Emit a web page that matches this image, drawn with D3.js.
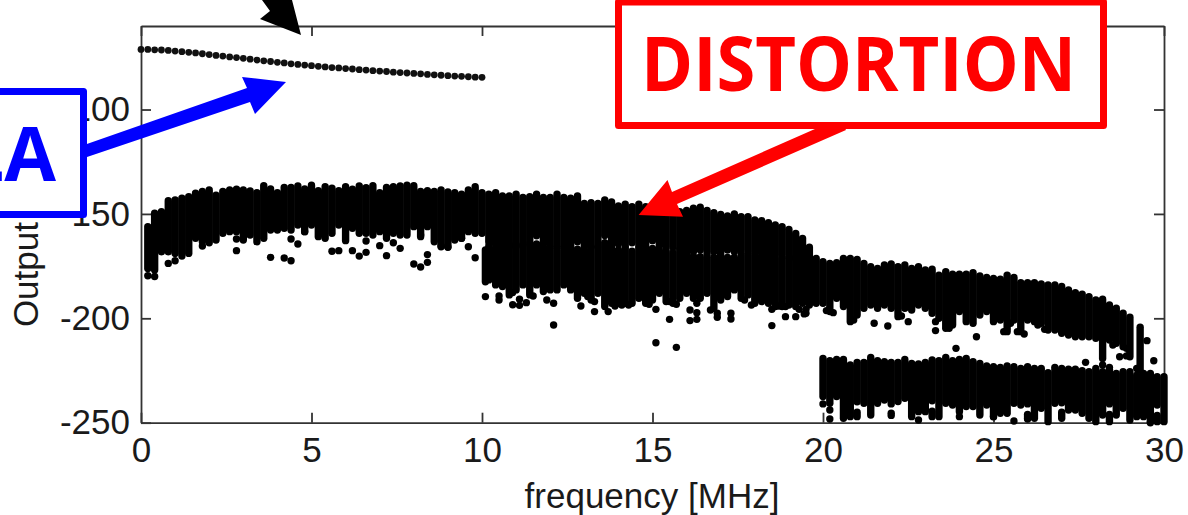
<!DOCTYPE html>
<html>
<head>
<meta charset="utf-8">
<script src="https://cdn.jsdelivr.net/npm/d3@7"></script>
<style>
  html, body { margin: 0; padding: 0; background: #fff; overflow: hidden; }
  svg { display: block; }
  .tick text { font-family: "Liberation Sans", Arial, sans-serif; font-size: 35px; fill: #1a1a1a; }
  .tick line, .domain { stroke: #333; stroke-width: 1.8px; }
  .lbl { font-family: "Liberation Sans", Arial, sans-serif; font-size: 35px; fill: #1a1a1a; }
  .note { font-family: "Open Sans", "Noto Sans", sans-serif; font-weight: 700; font-size: 75px; }
</style>
</head>
<body>
<script>
var w = 1188, h = 515;

var xTicks = [0, 5, 10, 15, 20, 25, 30];
var yTicks = [-250, -200, -150, -100];

// fundamental, one point every 0.2 MHz from 0 to 10
var fundFreq = [0,0.2,0.4,0.6,0.8,1,1.2,1.4,1.6,1.8,2,2.2,2.4,2.6,2.8,3,3.2,3.4,3.6,3.8,4,4.2,4.4,4.6,4.8,5,5.2,5.4,5.6,5.8,6,6.2,6.4,6.6,6.8,7,7.2,7.4,7.6,7.8,8,8.2,8.4,8.6,8.8,9,9.2,9.4,9.6,9.8,10];
var fundPower = [-71.2,-71.2,-71.4,-71.5,-71.7,-72.0,-72.3,-72.6,-72.9,-73.3,-73.7,-74.1,-74.4,-74.8,-75.1,-75.5,-75.9,-76.3,-76.7,-77.0,-77.4,-77.7,-78.1,-78.4,-78.7,-79.0,-79.3,-79.6,-79.9,-80.1,-80.4,-80.6,-80.9,-81.1,-81.4,-81.6,-81.8,-82.1,-82.3,-82.5,-82.7,-82.9,-83.2,-83.4,-83.6,-83.8,-84.0,-84.1,-84.3,-84.5,-84.6];

// dense columns of distortion dots: [freq, highest, lowest]
var band2nd = [[0.2,-156.1,-176.1],[0.4,-149.7,-176.9],[0.6,-149,-168.1],[0.8,-143.7,-168.1],[1,-143.3,-168.9],[1.2,-142.5,-170.2],[1.4,-141.7,-168.9],[1.6,-140.1,-161.7],[1.8,-139.3,-163.3],[2,-138.5,-163.8],[2.2,-141,-162.5],[2.4,-139.3,-159.3],[2.6,-138.5,-158.5],[2.8,-138.2,-158.5],[3,-138.5,-162.5],[3.2,-139,-160.1],[3.4,-139.8,-163.3],[3.6,-136.5,-161.7],[3.8,-138.1,-157.7],[4,-139.8,-157.7],[4.2,-137.3,-156.9],[4.4,-137.3,-157.7],[4.6,-136.6,-155.3],[4.8,-138.1,-158.5],[5,-136.3,-155.3],[5.2,-138.9,-160.9],[5.4,-137,-161.7],[5.6,-137.7,-159.3],[5.8,-138.9,-155.3],[6,-137,-162.8],[6.2,-138.2,-156.9],[6.4,-136.6,-159.3],[6.6,-137.4,-159.3],[6.8,-136.5,-160.1],[7,-139.8,-158.5],[7.2,-137.3,-161.7],[7.4,-137,-159.3],[7.6,-136.6,-160.1],[7.8,-136.3,-160.1],[8,-136.5,-156.1],[8.2,-139.3,-160.9],[8.4,-138.9,-156.1],[8.6,-139.2,-163.3],[8.8,-138.5,-165.7],[9,-139.5,-165.7],[9.2,-139.8,-162.5],[9.4,-140.5,-161.7],[9.6,-138.5,-158.5],[9.8,-137,-159.3],[10,-139.8,-159.3],
  [10.2,-140.5,-163.5],[10.4,-139.8,-164.5],[10.6,-141.4,-165.5],[10.8,-141.4,-165.5],[11,-140.5,-165.5],[11.2,-142.1,-164.5],[11.4,-141.7,-163.5],[11.6,-140.5,-160.5],[11.8,-142.1,-164.5],[12,-142.1,-165.5],[12.2,-140.5,-165.5],[12.4,-142.1,-165.5],[12.6,-142.5,-165.5],[12.8,-141.4,-163.3],[13,-145,-165.5],[13.2,-144.6,-165.5],[13.4,-145,-165.5],[13.6,-143.3,-160.4],[13.8,-144.3,-165.5],[14,-146.2,-164.4],[14.2,-145.3,-165.5],[14.4,-146.5,-163.8],[14.6,-145.3,-165.5],[14.8,-146.5,-165.5],[15,-147.3,-162.8],[15.2,-147.8,-165.5],[15.4,-147.8,-165.7],[15.6,-148.1,-166],[15.8,-148.9,-166.5],[16,-148.4,-167.3],[16.2,-147.3,-168.1],[16.4,-146.8,-167.3],[16.6,-148.4,-167.3],[16.8,-149.4,-168.1],[17,-150.2,-167.3],[17.2,-151,-167.3],[17.4,-150,-168.1],[17.6,-151.3,-167.3],[17.8,-151.3,-168.1],[18,-152.9,-168.9],[18.2,-153.2,-168.9],[18.4,-154.2,-169.7],[18.6,-155.3,-169.7],[18.8,-156.1,-169.7],[19,-157.4,-170.5],[19.2,-159.3,-171.3],[19.4,-161.7,-170.5]];

var band3rd = [[10.1,-167.3,-182.5],[10.2,-165.4,-181.6],[10.4,-166,-184],[10.6,-164.9,-184.8],[10.8,-164.9,-188.8],[11,-166,-186.4],[11.2,-164.9,-184],[11.4,-164.4,-188.8],[11.6,-164.4,-184],[11.8,-166,-187.2],[12,-166.5,-186.4],[12.2,-167.3,-186.4],[12.4,-166.5,-184],[12.6,-166,-186.4],[12.8,-166.9,-190.4],[13,-166.5,-188],[13.2,-166,-191.2],[13.4,-166.5,-188],[13.6,-163.8,-194.4],[13.8,-166.5,-192.8],[14,-167.3,-192.8],[14.2,-166.5,-192.8],[14.4,-167.8,-192.8],[14.6,-166.5,-190.4],[14.8,-166.5,-192.8],[15,-166.5,-191.2],[15.2,-167.3,-188],[15.4,-167.3,-192],[15.6,-168.6,-192.8],[15.8,-167.3,-190.4],[16,-168.1,-188],[16.2,-170.2,-190.4],[16.4,-170.5,-190.4],[16.6,-168.6,-188],[16.8,-170.8,-195.2],[17,-168.1,-191.2],[17.2,-170.8,-189.6],[17.4,-170.8,-186.4],[17.6,-168.9,-190.4],[17.8,-169.7,-188.8],[18,-170.2,-192.8],[18.2,-170.2,-192],[18.4,-170.8,-192.8],[18.6,-170.8,-194.4],[18.8,-171.3,-194.4],[19,-171.3,-193.6],[19.2,-171.3,-194.4],[19.4,-170.8,-192.8],
  [19.6,-165.9,-193.6],[19.8,-171.3,-192.8],[20,-172.9,-192.8],[20.2,-173.7,-196.8],[20.4,-173.4,-190.4],[20.6,-171.3,-194.4],[20.8,-171.3,-201.6],[21,-171.8,-198.4],[21.2,-173.7,-195.2],[21.4,-175.3,-193.6],[21.6,-176.1,-195.2],[21.8,-174.5,-193.6],[22,-174,-195.2],[22.2,-175.3,-199.2],[22.4,-174.5,-195.2],[22.6,-176.1,-196],[22.8,-175.3,-193.6],[23,-176.9,-195.2],[23.2,-176.5,-197.6],[23.4,-179.3,-200],[23.6,-177.7,-204.8],[23.8,-178.9,-203.2],[24,-178.9,-196.8],[24.2,-178.9,-201.6],[24.4,-178.1,-202.4],[24.6,-179.7,-198.4],[24.8,-180.4,-196.8],[25,-180.9,-201.6],[25.2,-181.3,-200.8],[25.4,-179.3,-206.4],[25.6,-180.4,-200.8],[25.8,-182.9,-206.4],[26,-182.9,-200.8],[26.2,-182.9,-201.6],[26.4,-183.6,-202.4],[26.6,-184,-205.6],[26.8,-184,-205.6],[27,-184.8,-207.2],[27.2,-186.4,-208],[27.4,-187.7,-208.8],[27.6,-188.4,-208.8],[27.8,-189.6,-208.8],[28,-191.2,-209.6],[28.2,-190.9,-219.2],[28.4,-193.6,-210.4],[28.6,-195.2,-212],[28.8,-197.6,-213.6],[29,-199.5,-218.4],[29.3,-204.3,-224.8]];

var band4th = [[20,-219.2,-237.5],[20.2,-220.3,-240.7],[20.4,-219.7,-237.5],[20.6,-219.7,-247.9],[20.8,-222.4,-247.1],[21,-221.2,-240],[21.2,-221.2,-240.7],[21.4,-218.7,-246.3],[21.6,-220.3,-240.7],[21.8,-220.8,-239.1],[22,-221.2,-241],[22.2,-221.2,-239.9],[22.4,-219.7,-238.3],[22.6,-221.6,-247.1],[22.8,-221.9,-244.7],[23,-221.2,-244.7],[23.2,-220,-239.5],[23.4,-220.3,-247.1],[23.6,-218.7,-240.7],[23.8,-220.3,-241.5],[24,-219.7,-244.7],[24.2,-219.2,-242.3],[24.4,-220.8,-242.3],[24.6,-221.6,-246.3],[24.8,-222.8,-241.5],[25,-223.2,-247.1],[25.2,-223.5,-245.5],[25.4,-222.8,-245.5],[25.6,-223.2,-240.7],[25.8,-224,-241.5],[26,-223.2,-241],[26.2,-224,-247.9],[26.4,-224,-243.1],[26.6,-226,-249.5],[26.8,-223.5,-240.7],[27,-224,-240.5],[27.2,-224.4,-243.9],[27.4,-224.4,-243.9],[27.6,-225.1,-245.5],[27.8,-225.6,-247.9],[28,-224,-249.5],[28.2,-225.6,-246.3],[28.4,-224.4,-241],[28.6,-226.4,-246.3],[28.8,-225.6,-243.1],[29,-225.6,-248.7],[29.2,-227.2,-247.1],[29.4,-226.4,-247.1],[29.6,-226.4,-249.5],[29.8,-228,-241.5],[30,-228,-249.5]];

// lower stretches of a few columns, below a small gap
var band4thLow = [[21,-245,-247.1],[22,-245.5,-246.5],[23.2,-244.5,-247.1],[26,-246,-247.9],[27,-245,-247.9],[28.4,-246,-249.5],[29.8,-246.5,-249.5]];

// stray dots below the dense columns: [freq, power]
var strayLow = [[0.2,-179.6],[0.4,-180],[0.8,-173.7],[1,-172.4],[1.8,-165.4],[2.8,-162],[2.8,-167.6],[3.8,-170.8],[4.2,-171.1],[4.4,-162],[4.4,-172.4],[4.6,-164.4],[4.8,-158.5],[5.6,-167.9],[5.8,-167.6],[6.2,-167.6],[6.4,-170.2],[6.6,-163],[6.6,-168.4],[7,-165.2],[7.2,-170],[7.4,-163.8],[7.6,-166.5],[8,-174],[8.2,-175.4],[8.2,-160.1],[8.4,-169.5],[8.4,-173.2],[8.8,-165.4],[9,-166],[9.4,-161.7],[9.6,-165.7],[9.8,-171]];
var strayMid = [[10.1,-189.6],[10.5,-189.3],[10.5,-191.2],[10.9,-187.7],[10.9,-193.5],[11.1,-190.9],[11.1,-193.8],[11.3,-192.5],[11.5,-189.3],[11.9,-191.2],[12.1,-192.8],[12.1,-203.2],[12.9,-194.1],[13.1,-189.6],[13.3,-192],[13.3,-196.8],[13.7,-196.8],[13.9,-194.1],[14.1,-193.6],[14.3,-193.6],[14.9,-193.3],[15.1,-195.7],[15.5,-192],[15.5,-200.5],[15.7,-193.3],[15.1,-211.7],[15.7,-213.9],[16.1,-196],[16.1,-201.1],[16.3,-192.8],[16.3,-197.3],[16.3,-200.5],[16.7,-196],[16.9,-197.6],[16.9,-199.5],[17.3,-197.6],[17.3,-200.3],[17.7,-191.2],[17.9,-193.6],[18.5,-195.7],[18.5,-203.5],[18.7,-194.1],[18.9,-194.4],[18.9,-199.2],[19.3,-195.7],[19.2,-199.2],[19.5,-197.6],[19.5,-195.7],[19.45,-197.9]];
var strayHigh = [[20.1,-196.3],[20.3,-197.3],[20.9,-200.8],[21.5,-202.4],[21.9,-203.7],[22.3,-198.9],[22.5,-201.6],[23.3,-201.6],[23.3,-205.9],[23.7,-204.8],[24.5,-208.8],[23.9,-214.4],[25.3,-206.4],[25.5,-202.4],[25.7,-206.4],[25.9,-207.5],[26.3,-203.2],[26.5,-205.3],[29.5,-210.7],[28.5,-212.8],[28.7,-218.4],[28.9,-218],[28.9,-214.4],[27.7,-221.1],[28.2,-222.4],[28.4,-223.5],[29.7,-220.3],[29.2,-224],[20,-241],[20.2,-243.9],[20.2,-248.2],[22.8,-248.7],[24,-247.1],[25,-247.1],[25.6,-249.2],[26,-248.2],[29.6,-250]];

var x = d3.scaleLinear().domain([0, 30]).range([141, 1164]);
var y = d3.scaleLinear().domain([-250, -60]).range([422.7, 26]);

var svg = d3.select("body").append("svg").attr("width", w).attr("height", h);

//axes, ticks point inwards on all four sides
svg.append("g").attr("transform", "translate(0," + y(-250) + ")")
  .call(d3.axisBottom(x).tickValues(xTicks).tickFormat(String).tickSize(-10).tickSizeOuter(0).tickPadding(14));
svg.append("g").attr("transform", "translate(0," + y(-60) + ")")
  .call(d3.axisTop(x).tickValues(xTicks).tickFormat("").tickSize(-10).tickSizeOuter(0));
svg.append("g").attr("transform", "translate(" + x(0) + ",0)")
  .call(d3.axisLeft(y).tickValues(yTicks).tickFormat(String).tickSize(-10).tickSizeOuter(0).tickPadding(11));
svg.append("g").attr("transform", "translate(" + x(30) + ",0)")
  .call(d3.axisRight(y).tickValues(yTicks).tickFormat("").tickSize(-10).tickSizeOuter(0));

svg.append("text").attr("class", "lbl")
  .attr("x", 652).attr("y", 508).attr("text-anchor", "middle")
  .text("frequency [MHz]");
svg.append("text").attr("class", "lbl")
  .attr("transform", "translate(38,224) rotate(-90)").attr("text-anchor", "middle")
  .text("Output [dBm]");

//dense columns are drawn as round capped strokes, same width as a dot
[band2nd, band3rd, band4th, band4thLow].forEach(function(band) {
  svg.append("g").selectAll("line").data(band).enter().append("line")
    .attr("x1", function(d) { return x(d[0]); })
    .attr("x2", function(d) { return x(d[0]); })
    .attr("y1", function(d) { return y(d[1]); })
    .attr("y2", function(d) { return y(d[2]); })
    .attr("stroke", "#000")
    .attr("stroke-width", 7.4)
    .attr("stroke-linecap", "round");
});

//single dots
svg.append("g").selectAll("circle").data(strayLow.concat(strayMid, strayHigh)).enter().append("circle")
  .attr("cx", function(d) { return x(d[0]); })
  .attr("cy", function(d) { return y(d[1]); })
  .attr("r", 3.7)
  .attr("fill", "#000");

svg.append("g").selectAll("circle").data(fundFreq).enter().append("circle")
  .attr("cx", function(d) { return x(d); })
  .attr("cy", function(d, i) { return y(fundPower[i]); })
  .attr("r", 3.4)
  .attr("fill", "#111");

//overlays pasted on the figure
function poly(pts, col) {
  svg.append("polygon").attr("points", pts.join(" ")).attr("fill", col);
}

// black arrow, runs off the top edge
poly([[301,35],[260,19],[270,11],[262,0],[292,0]], "#000");

// blue label and arrow
poly([[84,145],[247,88],[242,77],[286,82],[255,114],[250,102],[87,157]], "#0000ff");
svg.append("rect").attr("x", -20).attr("y", 91.5).attr("width", 103.5).attr("height", 123)
  .attr("fill", "#fff").attr("stroke", "#0000ff").attr("stroke-width", 7).attr("stroke-linejoin", "round");
svg.append("text").attr("class", "note").attr("x", 56).attr("y", 181)
  .attr("text-anchor", "end").attr("fill", "#0000ff").text("LA");

// red label and arrow
poly([[840,118],[672,192],[667.5,180],[638.6,215],[683,216.7],[677,204],[846,130]], "#ff0000");
svg.append("rect").attr("x", 618.5).attr("y", 2).attr("width", 485).attr("height", 123.5)
  .attr("fill", "#fff").attr("stroke", "#ff0000").attr("stroke-width", 7).attr("stroke-linejoin", "round");
svg.append("text").attr("class", "note").attr("x", 641).attr("y", 91)
  .attr("textLength", 435).attr("lengthAdjust", "spacingAndGlyphs")
  .attr("fill", "#ff0000").text("DISTORTION");
</script>
</body>
</html>
